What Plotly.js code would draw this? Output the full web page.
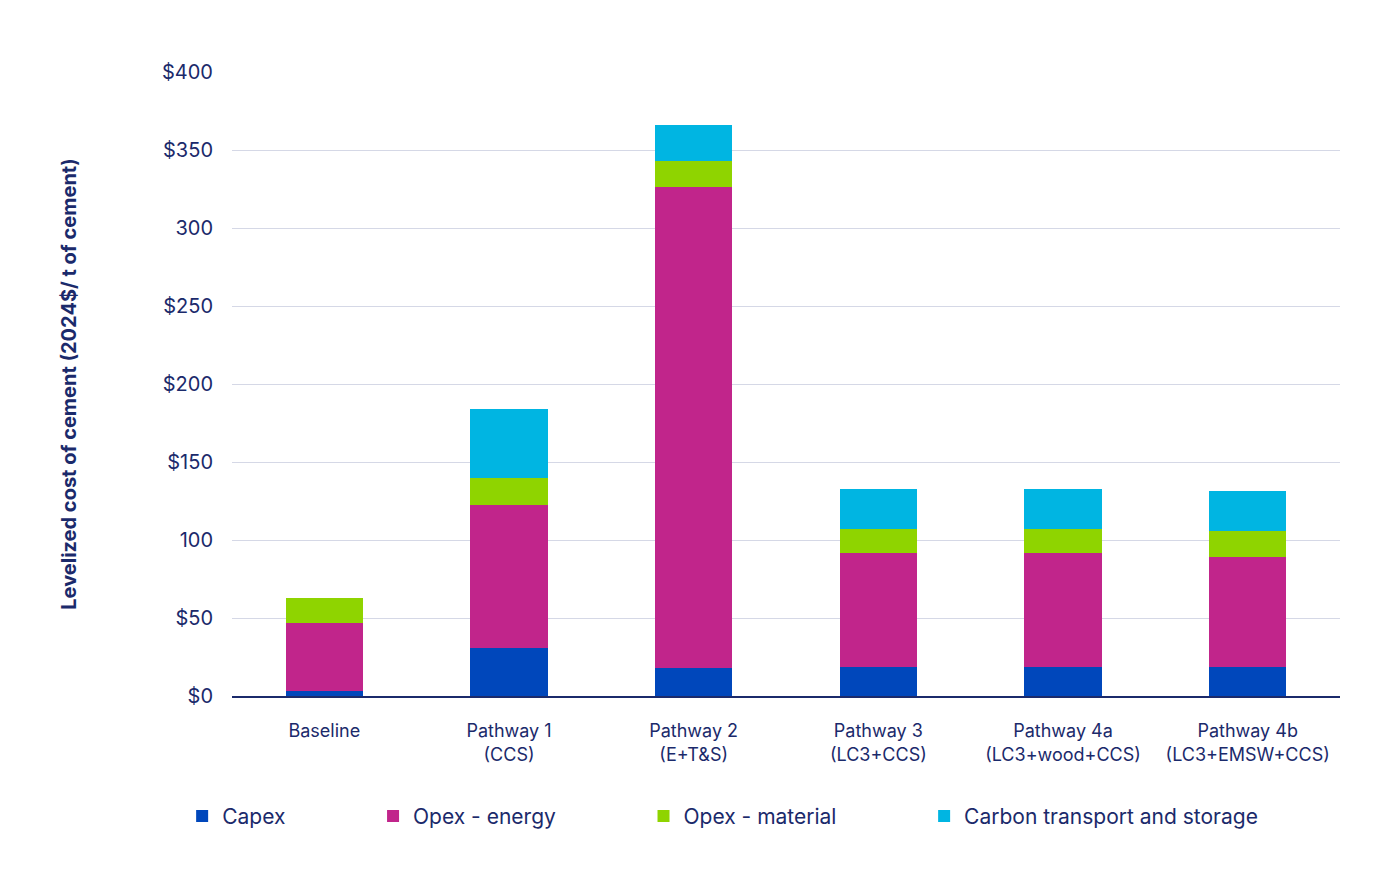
<!DOCTYPE html>
<html><head><script src="https://cdn.plot.ly/plotly-3.0.1.min.js"></script>
<style>body{margin:0;background:#fff}</style></head><body>
<div id="c" style="width:1400px;height:885px"></div>
<script>
const categories=["Baseline","Pathway 1<br>(CCS)","Pathway 2<br>(E+T&S)","Pathway 3<br>(LC3+CCS)","Pathway 4a<br>(LC3+wood+CCS)","Pathway 4b<br>(LC3+EMSW+CCS)"];
const capex=[3,31,18,18.6,18.6,18.6];
const opexEnergy=[44,91.5,308,73,73,70.5];
const opexMaterial=[16,17.5,17,15.4,15.4,16.7];
const carbonTS=[0,44,23,25.7,25.7,25.6];
const tickVals=[0,50,100,150,200,250,300,350,400];
const tickText=["$0","$50","100","$150","$200","$250","300","$350","$400"];
const legendNames=["Capex","Opex - energy","Opex - material","Carbon transport and storage"];
const navy="#1b2a6b";
const pad="\u00a0".repeat(14);
const mk=(n,y,c)=>({type:"bar",name:n,x:categories,y:y,marker:{color:c},width:0.42,hoverinfo:"y"});
Plotly.newPlot("c",[
 mk(legendNames[0]+pad,capex,"#0047bb"),
 mk(legendNames[1]+pad,opexEnergy,"#c1258b"),
 mk(legendNames[2]+pad,opexMaterial,"#8fd400"),
 mk(legendNames[3],carbonTS,"#00b5e2")
],{
 barmode:"stack",width:1400,height:885,
 margin:{l:232,r:60,t:72,b:189},
 paper_bgcolor:"#fff",plot_bgcolor:"#fff",
 font:{family:"Inter, sans-serif",color:navy,size:18},
 yaxis:{range:[0,400],tickvals:tickVals,ticktext:tickText,gridcolor:"#d5d8e6",zeroline:false,
   tickfont:{size:20},ticks:"outside",ticklen:14,tickcolor:"rgba(0,0,0,0)",
   title:{text:"<b>Levelized cost of cement (2024$/ t of cement)</b>",font:{size:20},standoff:80}},
 xaxis:{showline:true,linecolor:navy,linewidth:1.5,tickfont:{size:18},ticks:"outside",ticklen:18,tickcolor:"rgba(0,0,0,0)"},
 legend:{orientation:"h",x:-0.045,y:-0.16,xanchor:"left",yanchor:"top",font:{size:21},itemwidth:30,traceorder:"normal"},
 bargap:0.5
},{displayModeBar:false});
</script></body></html>
